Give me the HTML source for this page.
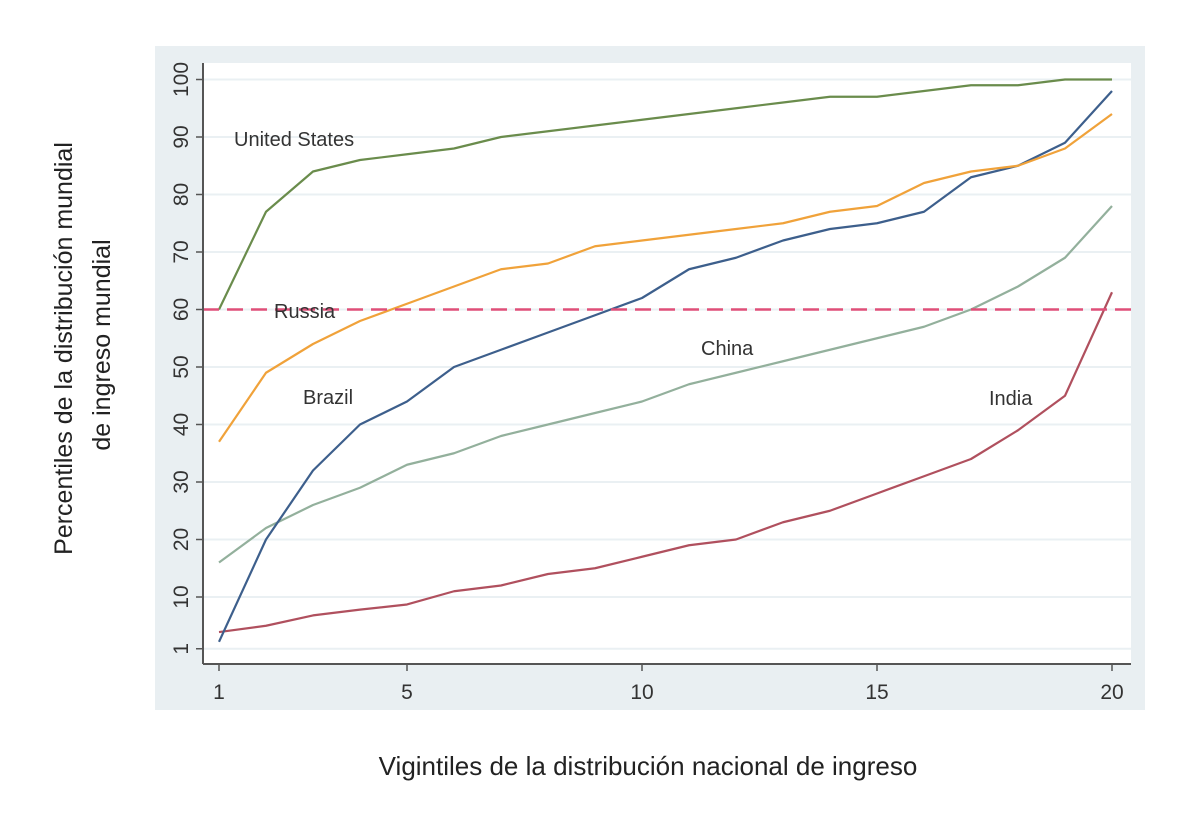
<!DOCTYPE html>
<html><head><meta charset="utf-8">
<style>
body{margin:0;background:#fff;width:1200px;height:812px;overflow:hidden;font-family:"Liberation Sans",sans-serif;}
</style></head>
<body>
<svg id="chart" width="1200" height="812" viewBox="0 0 1200 812" xmlns="http://www.w3.org/2000/svg">
<rect x="155" y="46" width="990" height="664" fill="#e9eff2"/>
<rect x="203" y="63" width="928" height="601" fill="#ffffff"/>
<g id="grid"></g>
<g id="series"></g>
<g id="axes"></g>
<g id="labels" font-family="Liberation Sans, sans-serif" font-size="20" fill="#333">
<text x="234" y="146">United States</text>
<text x="274" y="318">Russia</text>
<text x="303" y="404">Brazil</text>
<text x="701" y="355">China</text>
<text x="989" y="405">India</text>
</g>
<text transform="translate(72,345) rotate(-90)" text-anchor="middle" font-size="25" fill="#222">
<tspan x="0" y="0">Percentiles de la distribución mundial</tspan>
<tspan x="0" y="38">de ingreso mundial</tspan></text>
<text x="648" y="775" text-anchor="middle" font-size="26" fill="#222">Vigintiles de la distribución nacional de ingreso</text>
</svg>
<script>
const vigintiles=[1,2,3,4,5,6,7,8,9,10,11,12,13,14,15,16,17,18,19,20];
const unitedStates=[60,77,84,86,87,88,90,91,92,93,94,95,96,97,97,98,99,99,100,100];
const russia=[37,49,54,58,61,64,67,68,71,72,73,74,75,77,78,82,84,85,88,94];
const brazil=[2.2,20,32,40,44,50,53,56,59,62,67,69,72,74,75,77,83,85,89,98];
const china=[16,22,26,29,33,35,38,40,42,44,47,49,51,53,55,57,60,64,69,78];
const india=[3.9,5,6.8,7.8,8.7,11,12,14,15,17,19,20,23,25,28,31,34,39,45,63];
const threshold=60;
const yTicks=[1,10,20,30,40,50,60,70,80,90,100];
const xTicks=[1,5,10,15,20];
const NS="http://www.w3.org/2000/svg";
function xs(v){return 219+(v-1)*47;}
function ys(v){return 654.5-5.75*v;}
function mk(tag,attrs,parent){const e=document.createElementNS(NS,tag);for(const k in attrs)e.setAttribute(k,attrs[k]);parent.appendChild(e);return e;}
const grid=document.getElementById('grid'),axes=document.getElementById('axes'),ser=document.getElementById('series');
yTicks.forEach(t=>{
 const g=mk('line',{x1:203,x2:1131,y1:ys(t),y2:ys(t),stroke:'#eaf0f3','stroke-width':2},grid);
 
 
 const tk=mk('line',{x1:196,x2:203,y1:ys(t),y2:ys(t),stroke:'#555','stroke-width':1.5},axes);
 
 
 const tx=mk('text',{transform:`translate(188,${ys(t)}) rotate(-90)`,'text-anchor':'middle','font-size':21,fill:'#333'},axes);
 tx.textContent=t;
 
 
});
xTicks.forEach(t=>{
 const tk=mk('line',{x1:xs(t),x2:xs(t),y1:664,y2:671,stroke:'#555','stroke-width':1.5},axes);
 
 
 const tx=mk('text',{x:xs(t),y:699,'text-anchor':'middle','font-size':21,fill:'#333'},axes);
 tx.textContent=t;
 
 
});
const ya=mk('line',{x1:203,x2:203,y1:63,y2:664,stroke:'#555','stroke-width':2},axes);


const xa=mk('line',{x1:203,x2:1131,y1:664,y2:664,stroke:'#555','stroke-width':2},axes);


function line(data,color,name){
 const p=mk('polyline',{points:data.map((v,i)=>xs(vigintiles[i])+','+ys(v)).join(' '),fill:'none',stroke:color,'stroke-width':2.2,'stroke-linejoin':'round'},ser);
 
 
}
line(china,'#93b09c','line-china');
line(india,'#b0505e','line-india');
line(brazil,'#3d5f8c','line-brazil');
line(russia,'#f0a23a','line-russia');
line(unitedStates,'#6a8c4c','line-united-states');
const th=mk('line',{x1:203,x2:1131,y1:ys(threshold),y2:ys(threshold),stroke:'#df4f78','stroke-width':2.5,'stroke-dasharray':'16 8'},ser);


</script>
</body></html>
